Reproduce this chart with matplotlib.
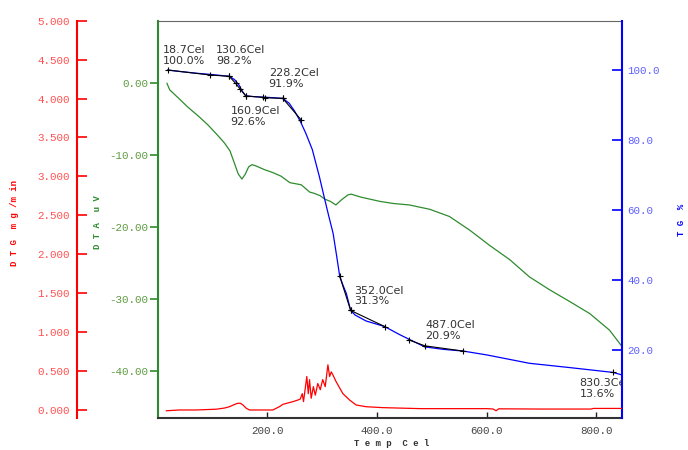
import numpy as np
import matplotlib
matplotlib.use('Agg')
import matplotlib.pyplot as plt
from matplotlib.ticker import FuncFormatter

# TG curve (temperature in Cel, mass %)
tg_t = [18.7, 40, 70, 100, 130.6, 140, 148, 155, 160.9, 175, 200, 228.2, 240, 250, 260, 270,
        282, 295, 304, 312, 320, 326, 332, 338, 344, 352, 360, 380, 414, 440, 458, 487,
        520, 557, 600, 678, 750, 830.3, 846]
tg_v = [100.0, 99.6, 99.1, 98.7, 98.2, 97.3, 95.8, 93.8, 92.6, 92.4, 92.2, 91.9, 90.5, 88.2,
        85.4, 82.0, 77.3, 69.5, 63.5, 58.3, 53.3, 47.3, 41.1, 38.5, 36.2, 31.3, 30.0, 28.3,
        26.7, 24.5, 23.1, 20.9, 20.2, 19.7, 18.6, 16.2, 15.0, 13.6, 12.9]

# DTA curve (uV)
dta_t = [17, 22, 40, 55, 75, 92, 108, 122, 132, 140, 147, 153.7, 160, 166, 172, 180, 195, 210,
         225, 241, 262, 277, 286, 296, 305, 315, 325, 335, 347, 353, 370, 405, 430, 459, 496,
         532, 569, 605, 642, 678, 715, 751, 788, 824, 842, 846]
dta_v = [0.0, -0.9, -2.2, -3.3, -4.6, -5.8, -7.1, -8.3, -9.4, -11.1, -12.6, -13.3, -12.6, -11.6,
         -11.3, -11.5, -12.0, -12.4, -12.9, -13.8, -14.1, -15.1, -15.3, -15.6, -16.1, -16.4,
         -16.9, -16.2, -15.5, -15.4, -15.8, -16.4, -16.7, -16.9, -17.5, -18.5, -20.4, -22.5,
         -24.5, -26.9, -28.7, -30.3, -32.0, -34.3, -36.1, -36.5]

# DTG curve (mg/min)
dtg_t = [16, 40, 70, 107, 122, 131, 140, 146, 151, 155.6, 162, 167.7, 190, 210, 222, 228.5,
         246.7, 255.8, 260, 263.8, 266, 272, 274.7, 277, 280, 284, 287.5, 292, 296.6, 301,
         305.6, 310.5, 313.6, 316.6, 319.6, 325.7, 337.8, 350, 362, 380, 410.7, 481, 602,
         612, 617, 622, 700, 790, 795, 846]
dtg_v = [-0.01, 0.0, 0.0, 0.01, 0.025, 0.042, 0.07, 0.086, 0.086, 0.064, 0.02, 0.0, 0.0, 0.0,
         0.042, 0.073, 0.107, 0.128, 0.14, 0.21, 0.107, 0.43, 0.21, 0.39, 0.15, 0.30, 0.19,
         0.34, 0.26, 0.39, 0.30, 0.58, 0.43, 0.49, 0.45, 0.36, 0.21, 0.128, 0.064, 0.042, 0.03,
         0.017, 0.017, 0.012, -0.01, 0.015, 0.012, 0.012, 0.02, 0.02]

# step analysis segments on TG (black, with + markers)
seg_list = [
    ([18.7, 94.8, 130.6], [100.0, 98.6, 98.2]),
    ([130.6, 142.2, 150.8, 160.9], [98.2, 96.2, 94.5, 92.6]),
    ([160.9, 191.8, 196.0, 228.2], [92.6, 92.2, 92.1, 91.9]),
    ([228.2, 262.0], [91.9, 85.7]),
    ([332.0, 352.0], [41.1, 31.3]),
    ([352.0, 414.0], [31.3, 26.7]),
    ([458.0, 487.0, 557.0], [22.9, 21.2, 19.7]),
    ([830.3], [13.6]),
]

# annotations: text, anchor temperature, anchor TG (top left of text)
ann_text = ['18.7Cel\n100.0%', '130.6Cel\n98.2%', '228.2Cel\n91.9%', '160.9Cel\n92.6%',
            '352.0Cel\n31.3%', '487.0Cel\n20.9%', '830.3Cel\n13.6%']
ann_t = [9.1, 107, 202.4, 133, 359, 488.6, 769.4]
ann_v = [107.1, 107.1, 100.6, 89.7, 38.4, 28.6, 12.0]

red = '#ff0000'
green = '#2e8b2e'
blue = '#0000ff'
tick_font = 'Liberation Mono'

fig = plt.figure(figsize=(6.88, 4.5), dpi=100)
W, H = 688, 450
left, right, top, bottom = 158, 622, 20.7, 418
ax = fig.add_axes([left / W, 1 - bottom / H, (right - left) / W, (bottom - top) / H])
ax_tg = ax.twinx()
ax_dtg = ax.twinx()

# DTG (red) axis on the far left
ax_dtg.plot(dtg_t, dtg_v, color=red, lw=0.9)
ax_dtg.set_ylim(-0.103, 5.0)
ax_dtg.set_yticks(np.arange(0, 5.01, 0.5))
ax_dtg.yaxis.set_major_formatter(FuncFormatter(lambda v, p: f'{v:.3f}'))
ax_dtg.yaxis.set_ticks_position('left')
ax_dtg.spines['left'].set_visible(True)
ax_dtg.spines['left'].set_position(('axes', (77 - left) / (right - left)))
ax_dtg.spines['left'].set_color(red)
ax_dtg.spines['left'].set_linewidth(1.5)
for s in ['right', 'top', 'bottom']:
    ax_dtg.spines[s].set_visible(False)
ax_dtg.tick_params(axis='y', direction='in', length=7, color=red, labelcolor='#ff5050',
                   labelsize=7.8, width=1.2, pad=5)

# DTA (green) main axis
ax.plot(dta_t, dta_v, color=green, lw=0.9)
ax.set_ylim(-46.5, 8.7)
ax.set_yticks([0, -10, -20, -30, -40])
ax.yaxis.set_major_formatter(FuncFormatter(lambda v, p: f'{v:.2f}'))
ax.set_xlim(0.7, 846.7)
ax.set_xticks([200, 400, 600, 800])
ax.xaxis.set_major_formatter(FuncFormatter(lambda v, p: f'{v:.1f}'))
ax.tick_params(axis='y', direction='out', length=6, color=green, labelcolor='#5e9a40',
               labelsize=7.8, width=1.2, pad=1)
ax.tick_params(axis='x', direction='in', length=4, color='#222222', labelcolor='#444444',
               labelsize=7.8, width=1.0, pad=6)
ax.spines['left'].set_color(green)
ax.spines['left'].set_linewidth(1.5)
ax.spines['top'].set_color('#666666')
ax.spines['bottom'].set_color('#333333')
ax.spines['bottom'].set_linewidth(1.5)
ax.spines['right'].set_visible(False)

# TG (blue) axis on the right
ax_tg.plot(tg_t, tg_v, color=blue, lw=0.9)
for st, sv in seg_list:
    ax_tg.plot(st, sv, color='black', lw=0.8, marker='+', ms=5, mew=0.8)
ax_tg.set_ylim(0.57, 114.1)
ax_tg.set_yticks([20, 40, 60, 80, 100])
ax_tg.yaxis.set_major_formatter(FuncFormatter(lambda v, p: f'{v:.1f}'))
ax_tg.spines['right'].set_color(blue)
ax_tg.spines['right'].set_linewidth(1.5)
for s in ['left', 'top', 'bottom']:
    ax_tg.spines[s].set_visible(False)
ax_tg.tick_params(axis='y', direction='in', length=7, color=blue, labelcolor='#6060ff',
                  labelsize=7.8, width=1.2, pad=4)

for lab in ax.get_xticklabels() + ax.get_yticklabels() + ax_tg.get_yticklabels() + ax_dtg.get_yticklabels():
    lab.set_fontfamily(tick_font)

for txt, t, v in zip(ann_text, ann_t, ann_v):
    ax_tg.text(t, v, txt, ha='left', va='top', fontsize=8, color='#333333',
               family='DejaVu Sans', linespacing=1.1, clip_on=True)

fig.text(15 / W, 1 - 223 / H, 'D T G  m g /m in', rotation=90, ha='center', va='center',
         color=red, fontsize=6.5, family=tick_font, fontweight='bold')
fig.text(97 / W, 1 - 222 / H, 'D T A  u V', rotation=90, ha='center', va='center',
         color=green, fontsize=6.5, family=tick_font, fontweight='bold')
fig.text(681 / W, 1 - 220 / H, 'T G  %', rotation=90, ha='center', va='center',
         color=blue, fontsize=6.5, family=tick_font, fontweight='bold')
fig.text(392 / W, 1 - 443 / H, 'T e m p  C e l', ha='center', va='center',
         color='#333333', fontsize=6.5, family=tick_font, fontweight='bold')

fig.savefig('out.png', dpi=100)
